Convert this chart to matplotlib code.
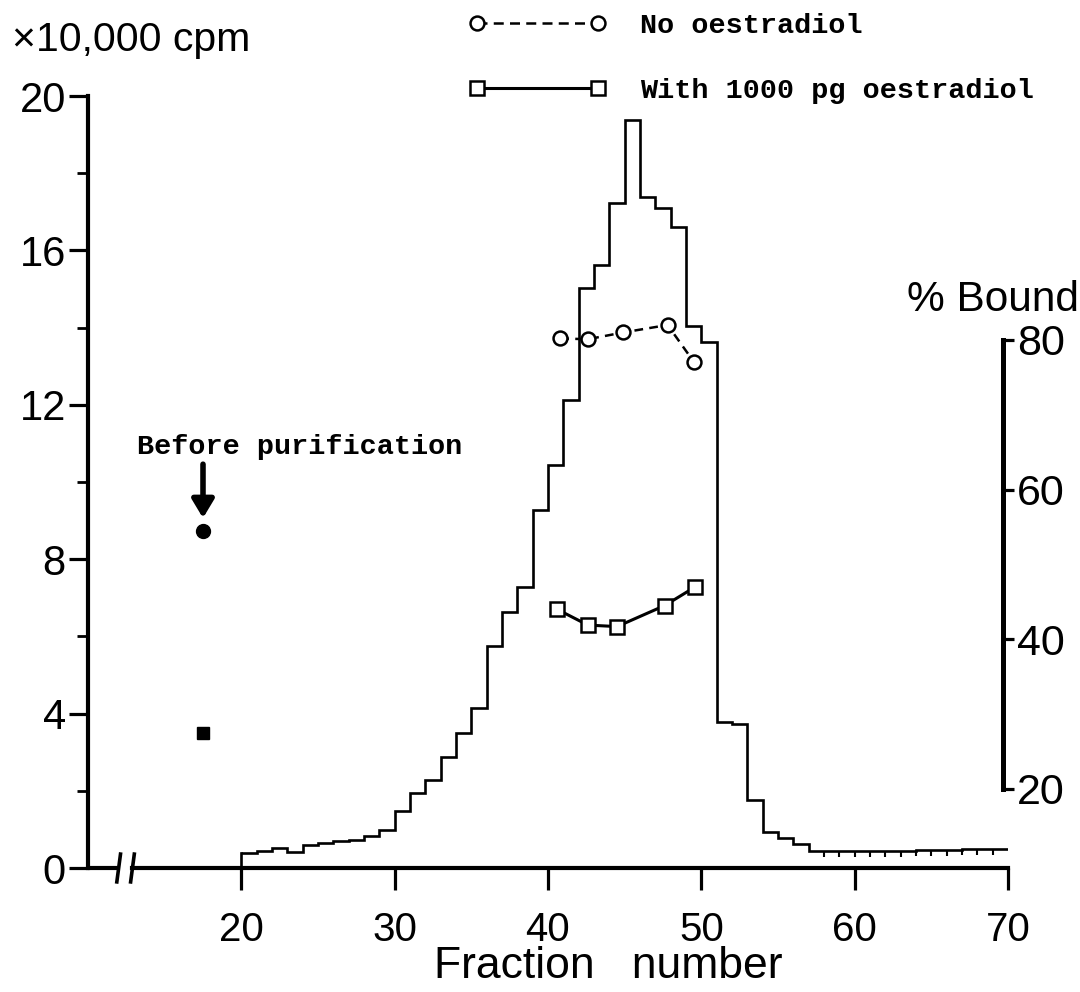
import matplotlib
matplotlib.use('Agg')
import matplotlib.pyplot as plt
from matplotlib.lines import Line2D
from matplotlib import font_manager

# ---------------- data ----------------
fraction_edges = list(range(20, 71))
cpm_x10000 = [0.38, 0.44, 0.51, 0.42, 0.60, 0.64, 0.70, 0.72, 0.83, 0.98,
              1.48, 1.95, 2.28, 2.88, 3.49, 4.15, 5.76, 6.62, 7.29, 9.27,
              10.45, 12.12, 15.02, 15.62, 17.24, 19.38, 17.39, 17.09, 16.61, 14.05,
              13.63, 3.77, 3.72, 1.76, 0.94, 0.77, 0.62, 0.45, 0.45, 0.45,
              0.45, 0.45, 0.45, 0.45, 0.46, 0.47, 0.47, 0.48, 0.48, 0.48]

no_oestradiol_x = [40.8, 42.6, 44.9, 47.8, 49.5]
no_oestradiol_bound = [80.2, 80.1, 81.0, 82.0, 77.1]
with_oestradiol_x = [40.6, 42.6, 44.5, 47.6, 49.6]
with_oestradiol_bound = [44.0, 41.9, 41.7, 44.5, 47.0]

before_x = [17.5]
before_no_oestradiol = [54.5]
before_with_oestradiol = [27.5]

x_ticks = [20, 30, 40, 50, 60, 70]
y_ticks = [0, 4, 8, 12, 16, 20]
y_minor = [2, 6, 10, 14, 18]
bound_ticks = [20, 40, 60, 80]
legend_labels = ['No oestradiol', 'With 1000 pg oestradiol']

# ---------------- fonts ----------------
available = {f.name for f in font_manager.fontManager.ttflist}
sans = 'Liberation Sans Narrow' if 'Liberation Sans Narrow' in available else 'Liberation Sans'
mono = 'Liberation Mono'
plt.rcParams['font.family'] = [sans, 'DejaVu Sans']

W, H = 1080, 992
fig = plt.figure(figsize=(W / 100, H / 100), dpi=100)
ax = fig.add_axes([88 / W, 1 - 868 / H, 920 / W, 772 / H])
ax.set_xlim(10, 70)
ax.set_ylim(0, 20)

for s in ['top', 'right']:
    ax.spines[s].set_visible(False)
ax.spines['left'].set_linewidth(3)
ax.spines['bottom'].set_linewidth(3)
ax.spines['bottom'].set_bounds(12.9, 70)
ax.spines['left'].set_bounds(0, 20)

# axis break on the x axis
ax.plot([10, 12.0], [0, 0], color='k', lw=3, clip_on=False, solid_capstyle='butt')
for bx in (12.0, 12.9):
    ax.plot([bx - 0.12, bx + 0.12], [-0.36, 0.36], color='k', lw=2.6, clip_on=False)

ax.set_xticks(x_ticks)
ax.set_xticklabels([str(v) for v in x_ticks])
ax.set_yticks(y_ticks)
ax.set_yticklabels([str(v) for v in y_ticks])
ax.set_yticks(y_minor, minor=True)
ax.tick_params(axis='x', direction='out', length=16, width=2.3, pad=15, labelsize=29)
ax.tick_params(axis='y', which='major', direction='out', length=14, width=2.3, pad=2, labelsize=30)
ax.tick_params(axis='y', which='minor', direction='out', length=8, width=2.0)

# histogram of counts
ax.stairs(cpm_x10000, fraction_edges, baseline=None, color='k', lw=1.9)
ax.plot([fraction_edges[0], fraction_edges[0]], [0, cpm_x10000[0]], color='k', lw=1.9)
ax.plot(fraction_edges[38:50], cpm_x10000[38:50], ls='none', marker=3, ms=4, mew=1.5, color='k')

# % bound axis
ax2 = ax.twinx()
ax2.set_ylim(9.44, 112.6)
for s in ['top', 'left', 'bottom']:
    ax2.spines[s].set_visible(False)
ax2.spines['right'].set_position(('axes', 0.9946))
ax2.spines['right'].set_bounds(20, 80)
ax2.spines['right'].set_linewidth(3.6)
ax2.set_yticks(bound_ticks)
ax2.set_yticklabels([str(v) for v in bound_ticks])
ax2.tick_params(axis='y', direction='out', length=8, width=2.3, pad=2, labelsize=31)

ax2.plot(no_oestradiol_x, no_oestradiol_bound, color='k', ls=(0, (3.5, 2.5)), lw=1.8,
         marker='o', ms=10, mfc='white', mec='k', mew=1.8)
ax2.plot(with_oestradiol_x, with_oestradiol_bound, color='k', ls='-', lw=2.2,
         marker='s', ms=10, mfc='white', mec='k', mew=1.8)
ax2.plot(before_x, before_no_oestradiol, ls='none', marker='o', ms=10, color='k')
ax2.plot(before_x, before_with_oestradiol, ls='none', marker='s', ms=9, color='k')

ax2.annotate('', xy=(before_x[0], 56.2), xytext=(before_x[0], 63.4),
             arrowprops=dict(arrowstyle='-|>,head_length=0.5,head_width=0.3',
                             lw=4, color='k', mutation_scale=22, shrinkA=0, shrinkB=0))
ax2.text(23.8, 65.7, 'Before purification', ha='center', va='center',
         family=mono, fontweight='bold', fontsize=20.5)

# axis titles
fig.text(12 / W, 1 - 40 / H, '×10,000 cpm', ha='left', va='center', fontsize=29.5)
fig.text(907 / W, 1 - 300 / H, '% Bound', ha='left', va='center', fontsize=30.5)
fig.text(608 / W, 1 - 966 / H, 'Fraction   number', ha='center', va='center', fontsize=32)

# legend
handles = [Line2D([], [], color='k', ls=(0, (4, 2.5)), lw=1.8, marker='o', ms=10, mfc='white', mew=1.8),
           Line2D([], [], color='k', ls='-', lw=2.2, marker='s', ms=10, mfc='white', mew=1.8)]
fig.legend(handles, legend_labels, loc='upper left', bbox_to_anchor=(468 / W, 1 - 13 / H),
           numpoints=2, handlelength=4.88, handletextpad=1.15, labelspacing=1.37,
           borderpad=0, borderaxespad=0, frameon=False,
           prop=dict(family=mono, weight='bold', size=20.5))

fig.savefig('out.png', dpi=100)
